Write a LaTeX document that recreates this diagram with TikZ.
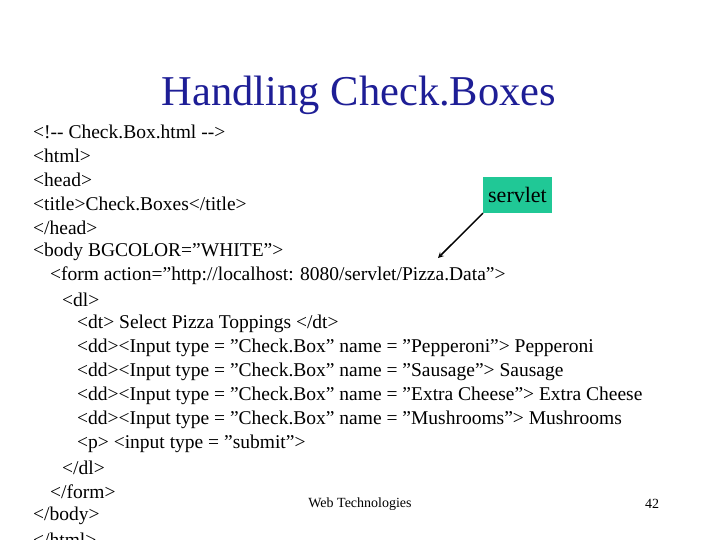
\documentclass[tikz,border=0pt]{standalone}
\usepackage{fontspec}
\setmainfont{Liberation Serif}[Ligatures=ResetAll]
\usetikzlibrary{positioning}
\definecolor{servletgreen}{RGB}{32,200,150}
\definecolor{titleblue}{RGB}{30,30,150}
\newcommand{\dq}{\char34\relax}
\begin{document}
\begin{tikzpicture}[x=1pt,y=-1pt]
    \tikzstyle{code}=[anchor=west,inner sep=0pt,font=\fontsize{19.5}{21}\selectfont]
    \tikzstyle{tag}=[fill=servletgreen,inner xsep=5pt,minimum height=36pt,font=\fontsize{22}{24}\selectfont]
    \tikzstyle{foot}=[inner sep=0pt,font=\fontsize{14}{16}\selectfont]
    \useasboundingbox (0,0) rectangle (720,540);
    % Title
    \node[inner sep=0pt,text=titleblue,font=\fontsize{42.5}{46}\selectfont] (title) at (359,95) {Handling Check.Boxes};
    % Source lines
    \node[code] (l1) at (33,132) {<!-{}- Check.Box.html -{}->};
    \node[code] (l2) at (33,156) {<html>};
    \node[code] (l3) at (33,180) {<head>};
    \node[code] (l4) at (33,204) {<title>Check.Boxes</title>};
    \node[code] (l5) at (33,228) {</head>};
    \node[code] (l6) at (33,252) {<body BGCOLOR=\dq WHITE\dq>};
    \node[code] (l7) at (50,276) {<form action=\dq http://localhost: 8080/servlet/Pizza.Data\dq>};
    \node[code] (l8) at (62,300) {<dl>};
    \node[code] (l9) at (77,324) {<dt> Select Pizza Toppings </dt>};
    \node[code] (l10) at (77,348) {<dd><Input type = \dq Check.Box\dq{} name = \dq Pepperoni\dq> Pepperoni};
    \node[code] (l11) at (77,372) {<dd><Input type = \dq Check.Box\dq{} name = \dq Sausage\dq> Sausage};
    \node[code] (l12) at (77,396) {<dd><Input type = \dq Check.Box\dq{} name = \dq Extra Cheese\dq> Extra Cheese};
    \node[code] (l13) at (77,420) {<dd><Input type = \dq Check.Box\dq{} name = \dq Mushrooms\dq> Mushrooms};
    \node[code] (l14) at (77,444) {<p> <input type = \dq submit\dq>};
    \node[code] (l15) at (62,468) {</dl>};
    \node[code] (l16) at (50,492) {</form>};
    \node[code] (l17) at (33,516) {</body>};
    \node[code] (l18) at (33,540) {</html>};
    % Annotation
    \node[tag] (servlet) at (517.5,195) {servlet};
    \coordinate (target) at (438,258);
    \draw[-stealth,line width=1.5pt] (servlet.south west) -- (target);
    % Footer
    \node[foot] (footer) at (360,504) {Web Technologies};
    \node[foot] (page) at (652,504) {42};
\end{tikzpicture}
\end{document}
